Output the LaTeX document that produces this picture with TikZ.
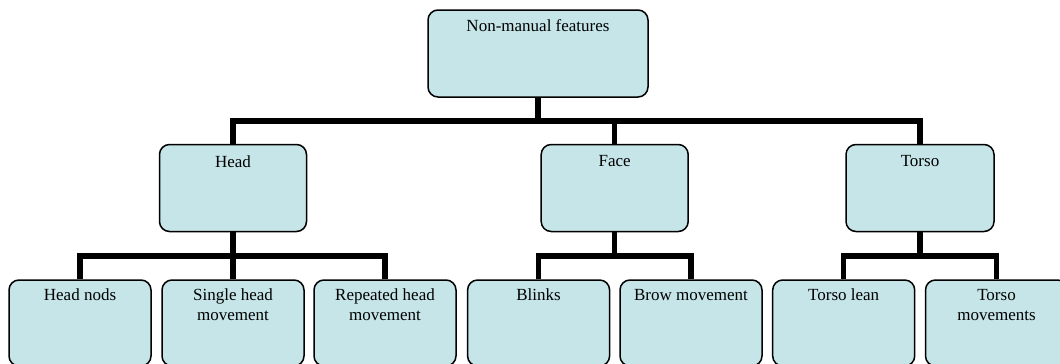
\documentclass[tikz,border=0pt]{standalone}
\usepackage{fontspec}
\setmainfont{Liberation Serif}
\usepackage{tikz}
\usetikzlibrary{arrows, positioning}

\definecolor{boxblue}{RGB}{197,229,232}

\begin{document}
\begin{tikzpicture}[x=1pt, y=-1pt,
  box/.style={draw, rectangle, rounded corners=10pt, line width=1.5pt, fill=boxblue, inner sep=0pt},
  lbl/.style={anchor=north, inner sep=0pt, align=center, font=\fontsize{17}{20}\selectfont},
  bus/.style={line width=5.5pt}]
\useasboundingbox (0,0) rectangle (1060,364);

% top level
\node[box, minimum width=220pt, minimum height=87pt, label={[lbl, yshift=-9.6pt]north:Non-manual features}] at(538,53.5) (nmf) {};

% middle level
\node[box, minimum width=147pt, minimum height=87pt, label={[lbl, yshift=-11.6pt]north:Head}] at(233,188) (head) {};
\node[box, minimum width=147pt, minimum height=87pt, label={[lbl, yshift=-11.6pt]north:Face}] at(614.7,188) (face) {};
\node[box, minimum width=148pt, minimum height=87pt, label={[lbl, yshift=-11.6pt]north:Torso}] at(920,188) (torso) {};

% bottom level
\node[box, minimum width=142pt, minimum height=86pt, label={[lbl, yshift=-9.6pt]north:Head nods}] at(80,323) (nods) {};
\node[box, minimum width=142pt, minimum height=86pt, label={[lbl, yshift=-9.6pt]north:Single head\\movement}] at(233,323) (single) {};
\node[box, minimum width=142pt, minimum height=86pt, label={[lbl, yshift=-9.6pt]north:Repeated head\\movement}] at(385,323) (repeated) {};
\node[box, minimum width=142pt, minimum height=86pt, label={[lbl, yshift=-9.6pt]north:Blinks}] at(538.6,323) (blinks) {};
\node[box, minimum width=142pt, minimum height=86pt, label={[lbl, yshift=-9.6pt]north:Brow movement}] at(691,323) (brow) {};
\node[box, minimum width=142pt, minimum height=86pt, label={[lbl, yshift=-9.6pt]north:Torso lean}] at(843.7,323) (lean) {};
\node[box, minimum width=142pt, minimum height=86pt, label={[lbl, yshift=-9.6pt]north:Torso\\movements}] at(996.5,323) (moves) {};

% junctions
\node[coordinate] at(538,121) (jtop) {};
\node[coordinate] at(233,256) (jhead) {};
\node[coordinate] at(614.7,256) (jface) {};
\node[coordinate] at(920,256) (jtorso) {};

% connectors
\draw[bus] (nmf) -- (jtop);
\draw[bus] (head) |- (jtop) -| (torso);
\draw[bus] (face) -- (face |- jtop);
\draw[bus] (head) -- (single);
\draw[bus] (nods) |- (jhead) -| (repeated);
\draw[bus] (face) -- (jface);
\draw[bus] (blinks) |- (jface) -| (brow);
\draw[bus] (torso) -- (jtorso);
\draw[bus] (lean) |- (jtorso) -| (moves);
\end{tikzpicture}
\end{document}
